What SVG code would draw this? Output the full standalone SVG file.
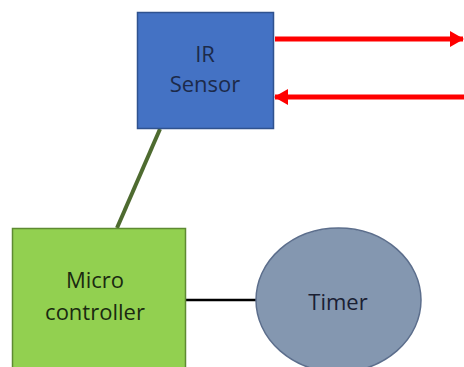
<svg xmlns="http://www.w3.org/2000/svg" width="464" height="367" viewBox="0 0 464 367">
<style>
.lbl{font-family:"Open Sans","Liberation Sans",sans-serif;font-size:22px;text-anchor:middle}
.red{stroke:#FF0000;stroke-width:5;fill:none}
</style>
<defs>
<marker id="ah" markerUnits="userSpaceOnUse" markerWidth="14" markerHeight="16" refX="13" refY="8" orient="auto">
<path d="M0,0 L14,8 L0,16 Z" fill="#FF0000"/>
</marker>
</defs>
<rect width="464" height="367" fill="#ffffff"/>
<g id="connectors">
<line x1="160" y1="129" x2="117" y2="228" stroke="#4E6B30" stroke-width="4"/>
<line x1="186" y1="300" x2="256" y2="300" stroke="#000000" stroke-width="2.5"/>
<line class="red" x1="275" y1="39" x2="463" y2="39" marker-end="url(#ah)"/>
<line class="red" x1="464" y1="97" x2="275" y2="97" marker-end="url(#ah)"/>
</g>
<g id="ir-sensor">
<rect x="137.5" y="12.5" width="136" height="116" fill="#4472C4" stroke="#2F528F" stroke-width="1.5"/>
<text class="lbl" x="205" y="62" fill="#1C2A4A">IR</text>
<text class="lbl" x="205" y="92" fill="#1C2A4A">Sensor</text>
</g>
<g id="microcontroller">
<rect x="12.5" y="228.5" width="173" height="140" fill="#92D050" stroke="#5E8A32" stroke-width="1.5"/>
<text class="lbl" x="95" y="288" fill="#1A2A10">Micro</text>
<text class="lbl" x="95" y="320" fill="#1A2A10">controller</text>
</g>
<g id="timer">
<ellipse cx="338.5" cy="300" rx="82.5" ry="72" fill="#8497B0" stroke="#5C6E8C" stroke-width="1.5"/>
<text class="lbl" x="338" y="310" fill="#1A2033">Timer</text>
</g>
</svg>
